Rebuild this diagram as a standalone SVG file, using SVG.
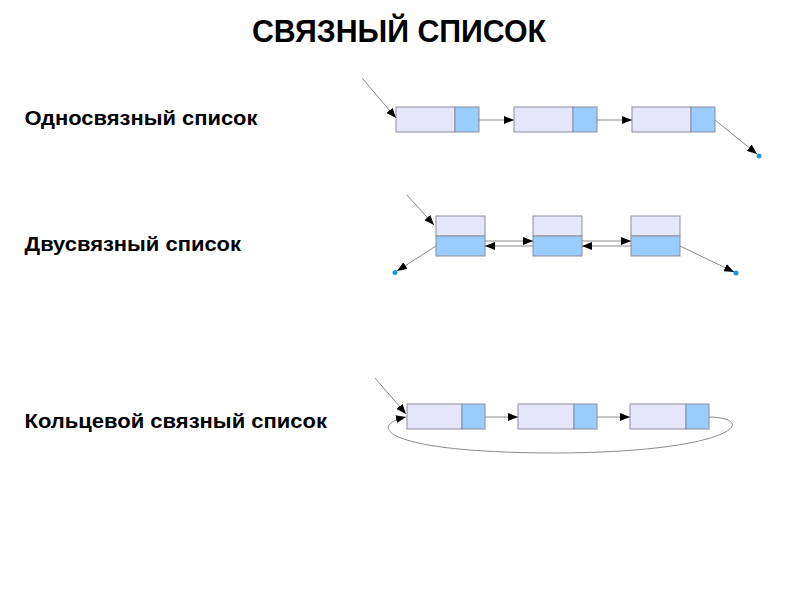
<svg xmlns="http://www.w3.org/2000/svg" width="800" height="600" viewBox="0 0 800 600">
<style>
.t{font-family:"Liberation Sans",Arial,sans-serif;font-weight:bold;fill:#000}
.l{font-size:20px}
.d{fill:#e6e6fa;stroke:#8c8c9c;stroke-width:1}
.p{fill:#99ccff;stroke:#8c8c9c;stroke-width:1}
.c{fill:none;stroke:#8a8a8a;stroke-width:1}
.a{marker-end:url(#ah)}
.dot{fill:#1e9ad6}
</style>
<defs>
<marker id="ah" viewBox="0 0 10 8" refX="10" refY="4" markerWidth="10" markerHeight="8" markerUnits="userSpaceOnUse" orient="auto">
<path d="M0,0 L10,4 L0,8 z" fill="#000"/>
</marker>
</defs>
<rect width="800" height="600" fill="#fff"/>
<text class="t" x="252" y="42" font-size="30.5" textLength="294" lengthAdjust="spacingAndGlyphs">СВЯЗНЫЙ СПИСОК</text>
<text class="t l" x="24.5" y="124.5" textLength="233" lengthAdjust="spacingAndGlyphs">Односвязный список</text>
<text class="t l" x="24.5" y="251" textLength="216.5" lengthAdjust="spacingAndGlyphs">Двусвязный список</text>
<text class="t l" x="24.5" y="427.5" textLength="302.5" lengthAdjust="spacingAndGlyphs">Кольцевой связный список</text>

<g id="s1"><rect class="d" x="396" y="107" width="59" height="25"/><rect class="p" x="455" y="107" width="24" height="25"/></g>
<g id="s2"><rect class="d" x="514" y="107" width="59" height="25"/><rect class="p" x="573" y="107" width="24" height="25"/></g>
<g id="s3"><rect class="d" x="632" y="107" width="59" height="25"/><rect class="p" x="691" y="107" width="24" height="25"/></g>

<g id="d1"><rect class="d" x="436" y="216" width="49" height="20"/><rect class="p" x="436" y="236" width="49" height="20"/></g>
<g id="d2"><rect class="d" x="533" y="216" width="49" height="20"/><rect class="p" x="533" y="236" width="49" height="20"/></g>
<g id="d3"><rect class="d" x="631" y="216" width="49" height="20"/><rect class="p" x="631" y="236" width="49" height="20"/></g>

<g id="r1"><rect class="d" x="407" y="404" width="55" height="25"/><rect class="p" x="462" y="404" width="23" height="25"/></g>
<g id="r2"><rect class="d" x="518" y="404" width="56" height="25"/><rect class="p" x="574" y="404" width="23" height="25"/></g>
<g id="r3"><rect class="d" x="630" y="404" width="56" height="25"/><rect class="p" x="686" y="404" width="23" height="25"/></g>

<g id="connectors">
<line class="c a" x1="362" y1="78" x2="396" y2="118"/>
<line class="c a" x1="479" y1="120" x2="514" y2="120"/>
<line class="c a" x1="597" y1="120" x2="632" y2="120"/>
<line class="c a" x1="715" y1="120" x2="757" y2="154"/>
<circle class="dot" cx="759" cy="156" r="2.5"/>

<line class="c a" x1="407" y1="195" x2="434" y2="225"/>
<line class="c a" x1="485" y1="241" x2="533" y2="241"/>
<line class="c a" x1="533" y1="246" x2="485" y2="246"/>
<line class="c a" x1="582" y1="241" x2="631" y2="241"/>
<line class="c a" x1="631" y1="246" x2="582" y2="246"/>
<line class="c a" x1="436" y1="246" x2="397" y2="271"/>
<circle class="dot" cx="395" cy="272.5" r="2.5"/>
<line class="c a" x1="680" y1="246" x2="734" y2="272"/>
<circle class="dot" cx="736" cy="273" r="2.5"/>

<line class="c a" x1="375" y1="378" x2="406" y2="414"/>
<line class="c a" x1="485" y1="417" x2="518" y2="417"/>
<line class="c a" x1="597" y1="417" x2="630" y2="417"/>
<path class="c a" d="M709,417 C760,418 735,452 558,453 C380,453 368,425 406,417"/>
</g>
</svg>
